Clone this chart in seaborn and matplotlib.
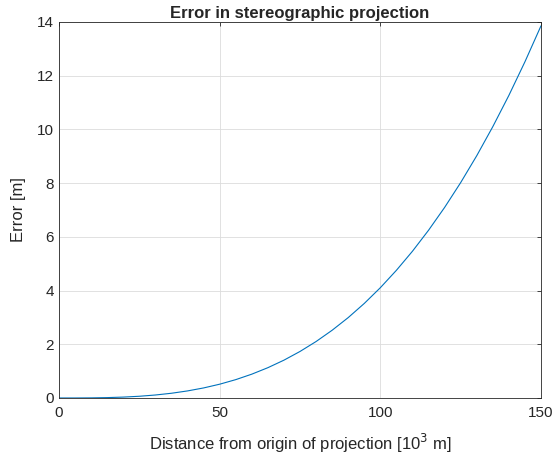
import matplotlib
matplotlib.use("Agg")
import matplotlib.pyplot as plt
import seaborn as sns
import pandas as pd

distance_km = [0, 5, 10, 15, 20, 25, 30, 35, 40, 45, 50, 55, 60, 65, 70, 75,
               80, 85, 90, 95, 100, 105, 110, 115, 120, 125, 130, 135, 140, 145, 150]
error_m = [0.0, 0.0005, 0.0041, 0.0139, 0.033, 0.064, 0.111, 0.176, 0.263, 0.374,
           0.513, 0.683, 0.887, 1.128, 1.408, 1.732, 2.102, 2.522, 2.993, 3.520,
           4.106, 4.754, 5.465, 6.245, 7.095, 8.020, 9.021, 10.103, 11.267, 12.519, 13.858]

df = pd.DataFrame({"d": distance_km, "e": error_m})

sns.set_style("whitegrid")
plt.rcParams['font.family'] = ['Liberation Sans', 'DejaVu Sans']

fig = plt.figure(figsize=(5.55, 4.61), dpi=100)
ax = fig.add_axes([0.1063, 0.1367, 0.8685, 0.8156])
sns.lineplot(data=df, x="d", y="e", ax=ax, color="#0072BD", linewidth=0.8)

ax.set_xlim(0, 150)
ax.set_ylim(0, 14)
ax.set_xticks([0, 50, 100, 150])
ax.set_yticks(range(0, 15, 2))
ax.grid(True, color="#dcdcdc", linewidth=0.6)
for s in ax.spines.values():
    s.set_visible(True)
    s.set_color("#262626")
    s.set_linewidth(0.6)
ax.tick_params(direction="in", length=3, width=0.6, colors="#262626",
               labelsize=11, top=True, right=True, labelcolor="#262626")
ax.tick_params(axis="x", pad=6)
ax.set_xlabel("Distance from origin of projection [10$^3$ m]", fontsize=12,
              color="#262626", labelpad=8)
ax.set_ylabel("Error [m]", fontsize=12, color="#262626", labelpad=8)
ax.set_title("Error in stereographic projection", fontsize=12, fontweight="bold", pad=3)

fig.savefig("out.png", dpi=100)
